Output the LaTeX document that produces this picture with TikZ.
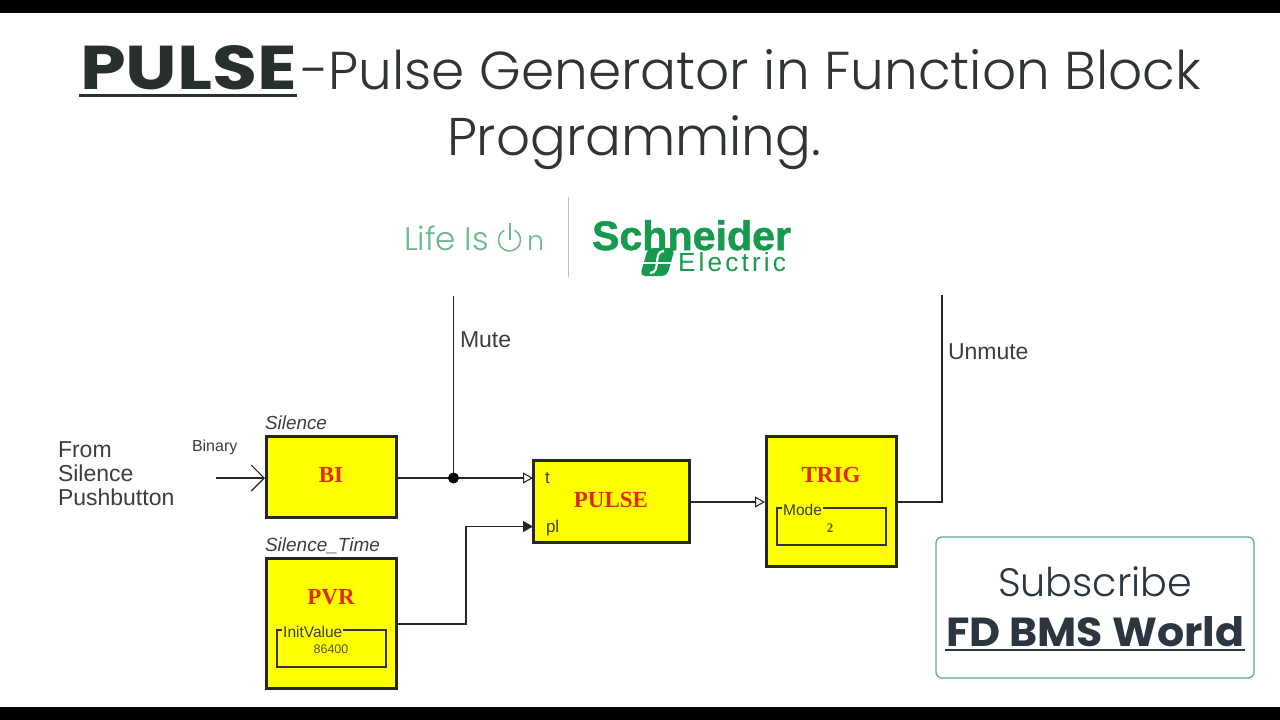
\documentclass[tikz,border=0pt]{standalone}
\usepackage{fontspec}
\usepackage{graphicx}
\setmainfont{Liberation Sans}
\newfontfamily\titlef{Poppins}
\newfontfamily\titlel{Poppins Light}
\newfontfamily\serf{Liberation Serif}
\newfontfamily\heavyf[FakeBold=1.2]{Liberation Sans Bold}
\newfontfamily\spacedf[LetterSpace=12]{Liberation Sans}
\usetikzlibrary{arrows.meta}
\definecolor{ink}{HTML}{2F3533}
\definecolor{titlebold}{HTML}{28302C}
\definecolor{lbl}{HTML}{3A3E42}
\definecolor{blockred}{HTML}{E02A00}
\definecolor{blockyel}{HTML}{FFFF00}
\definecolor{segreen}{HTML}{169B4E}
\definecolor{lifegreen}{HTML}{6DB98A}
\definecolor{teal1}{HTML}{5FA8A0}
\definecolor{subink}{HTML}{2B3640}
\definecolor{valink}{HTML}{55550F}
\tikzset{
  x=1pt,y=-1pt,
  txt/.style={inner sep=0pt,outer sep=0pt,anchor=base west,text=lbl},
  blk/.style={draw=black!85,line width=3pt,fill=blockyel,inner sep=0pt,outer sep=0pt},
  inner box/.style={draw=black!80,line width=1.3pt,fill=none,inner sep=0pt,outer sep=0pt},
  wire/.style={draw=black!85,line width=1.4pt},
  openin/.style={-{Triangle[open,length=10pt,width=11pt,line width=1.1pt,fill=white]}},
  fullin/.style={-{Triangle[length=10pt,width=11pt]}},
  barbin/.style={-{Straight Barb[length=13pt,width=26pt,line width=1.1pt]}},
  blockname/.style={inner sep=0pt,outer sep=0pt,text=blockred,font=\serf\bfseries\fontsize{23}{23}\selectfont},
}
\begin{document}
\begin{tikzpicture}
\useasboundingbox (0,0) rectangle (1280,720);
\fill[white] (0,0) rectangle (1280,720);
\fill[black] (0,0) rectangle (1280,13);
\fill[black] (0,707) rectangle (1280,720);
% title
\node[txt,text=titlebold] (t1) at (80,89) {\resizebox{217pt}{44pt}{\titlef\bfseries PULSE}};
\draw[titlebold,line width=3pt] (79,95.5) -- (297,95.5);
\node[txt,text=ink] (t2) at (301,89) {\resizebox{900pt}{!}{\titlel -Pulse Generator in Function Block}};
\node[txt,text=ink] (t3) at (447,155) {\resizebox{374pt}{!}{\titlel Programming.}};
% logo
\node[txt,text=lifegreen] (life) at (404,250) {\resizebox{85pt}{!}{\titlel Life Is}};
\draw[lifegreen,line width=1.5pt] (509.5,240) ++(62:11pt) arc[start angle=62,end angle=-242,radius=11pt];
\draw[lifegreen,line width=1.5pt] (510,223) -- (510,240);
\node[txt,text=lifegreen] (on) at (527,250) {\resizebox{17pt}{!}{\titlel n}};
\draw[black!25,line width=1.2pt] (568.5,197) -- (568.5,277);
\node[txt,text=segreen] (sch) at (592,250) {\resizebox{199pt}{!}{\heavyf Schneider}};
\node[txt,text=segreen] (ele) at (678,271) {\resizebox{108pt}{!}{\spacedf Electric}};
\fill[segreen,rounded corners=5pt] (648,248) -- (675,248) -- (667,276) -- (640,276) -- cycle;
\draw[white,line width=1.6pt] (641,263) -- (673,263);
\draw[white,line width=2.2pt] (664,251) .. controls (652,251) and (662,273) .. (650,273);
% blocks
\node[blk,minimum width=130pt,minimum height=81pt] (bi) at (331.5,477) {};
\node[blockname] at (331,475) {BI};
\node[blk,minimum width=130pt,minimum height=130pt] (pvr) at (331.5,623) {};
\node[blockname] at (331,597) {PVR};
\node[blk,minimum width=156pt,minimum height=82pt] (pulse) at (611.5,501.5) {};
\node[blockname] at (611,500) {PULSE};
\node[blk,minimum width=130pt,minimum height=130pt] (trig) at (831.5,501.5) {};
\node[blockname] at (831,475) {TRIG};
% inner boxes
\node[inner box,minimum width=109pt,minimum height=37pt] (ivbox) at (331.5,648.5) {};
\node[inner sep=1pt,fill=blockyel,text=lbl,font=\fontsize{15.5}{15.5}\selectfont,anchor=base west] (iv) at (282,637) {InitValue};
\node[inner sep=0pt,text=valink,font=\fontsize{12.5}{12.5}\selectfont,anchor=base] (ivv) at (331,653) {86400};
\node[inner box,minimum width=109pt,minimum height=37pt] (mbox) at (831.5,526.5) {};
\node[inner sep=1pt,fill=blockyel,text=lbl,font=\fontsize{15.5}{15.5}\selectfont,anchor=base west] (mode) at (782,515) {Mode};
\node[inner sep=0pt,text=valink,font=\serf\bfseries\fontsize{13}{13}\selectfont,anchor=base] (mv) at (830,532) {2};
% port labels
\node[txt,font=\fontsize{17}{17}\selectfont] (pt) at (545,483) {t};
\node[txt,font=\fontsize{17}{17}\selectfont] (ppl) at (546,532) {pl};
% labels
\node[txt,font=\fontsize{18}{18}\selectfont] (silence) at (265,429) {\resizebox{62pt}{!}{\itshape Silence}};
\node[txt,font=\fontsize{18}{18}\selectfont] (stime) at (265,551) {\resizebox{115pt}{!}{\itshape Silence\_Time}};
\node[txt,font=\fontsize{16}{16}\selectfont] (binary) at (192,451) {Binary};
\node[txt,font=\fontsize{23}{23}\selectfont] (f1) at (58,457) {From};
\node[txt,font=\fontsize{23}{23}\selectfont] (f2) at (58,481) {Silence};
\node[txt,font=\fontsize{23}{23}\selectfont] (f3) at (58,505) {Pushbutton};
\node[txt,font=\fontsize{23}{23}\selectfont] (mute) at (460,347) {Mute};
\node[txt,font=\fontsize{23}{23}\selectfont] (unmute) at (948,359) {Unmute};
% connector points
\coordinate (inS) at (216,478);
\coordinate (inE) at (265,478);
\coordinate (biO) at (397,478);
\coordinate (j) at (453.5,478);
\coordinate (muteTop) at (453.5,296);
\coordinate (tIn) at (533,478);
\coordinate (plIn) at (533,526.5);
\coordinate (pvrO) at (397,624);
\coordinate (pulseO) at (690,502);
\coordinate (trigIn) at (765,502);
\coordinate (trigO) at (897,502);
\coordinate (unmuteTop) at (942,295);
% connectors
\draw[wire,barbin] (inS) -- (inE);
\draw[wire,openin] (biO) -- (tIn);
\draw[wire,line width=1.7pt] (j) -- (muteTop);
\fill[black] (j) circle[radius=5.5pt];
\draw[wire,fullin] (pvrO) -| (466,526.5) -- (plIn);
\draw[wire,openin] (pulseO) -- (trigIn);
\draw[wire] (trigO) -| (unmuteTop);
% subscribe
\node[draw=teal1,line width=1.3pt,rounded corners=6pt,fill=white,minimum width=318pt,minimum height=141pt,inner sep=0pt,outer sep=0pt] (subbox) at (1095,607.5) {};
\node[txt,text=subink] (sub) at (998,596) {\resizebox{194pt}{!}{\titlel Subscribe}};
\node[txt,text=subink] (fd) at (946,646) {\resizebox{298pt}{30pt}{\titlef\bfseries FD BMS World}};
\draw[subink,line width=1.5pt] (945,650) -- (1245,650);
\end{tikzpicture}
\end{document}
